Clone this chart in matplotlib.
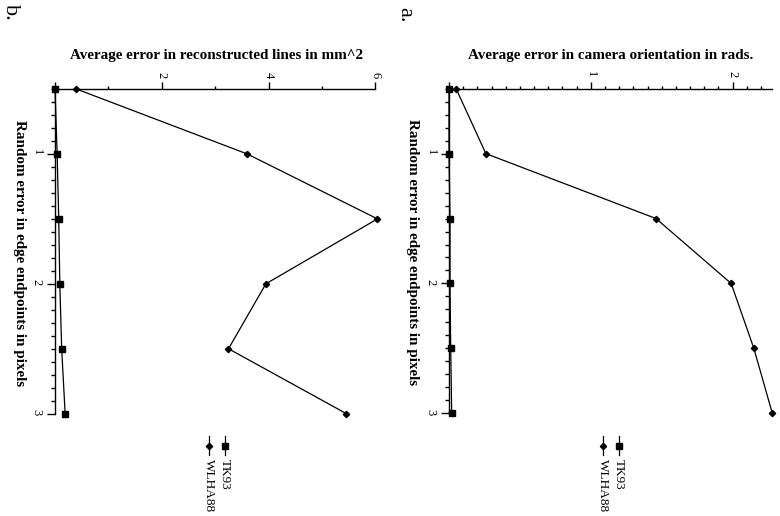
import matplotlib
matplotlib.use('Agg')
import matplotlib.pyplot as plt
from matplotlib.lines import Line2D
from matplotlib.ticker import MultipleLocator

plt.rcParams['font.family'] = ['Liberation Serif', 'DejaVu Serif']

# data
pixel_error = [0.5, 1.0, 1.5, 2.0, 2.5, 3.0]
orient_tk93 = [0.0, 0.0, 0.007, 0.007, 0.012, 0.019]
orient_wlha88 = [0.05, 0.26, 1.46, 1.99, 2.15, 2.28]
lines_tk93 = [0.0, 0.04, 0.07, 0.09, 0.125, 0.19]
lines_wlha88 = [0.40, 3.60, 6.04, 3.95, 3.25, 5.46]
series_names = ['TK93', 'WLHA88']

W, H = 780, 516
fig = plt.figure(figsize=(W / 100, H / 100), dpi=100)


def fx(x):
    return x / W


def fy(y):
    return 1 - y / H


def make_axes(left, right, top, bottom):
    return fig.add_axes([fx(left), fy(bottom), fx(right) - fx(left), fy(top) - fy(bottom)])


def style(ax, xmax, xmajor, xminor):
    ax.set_xlim(0, xmax)
    ax.set_ylim(3, 0.5)
    ax.xaxis.tick_top()
    ax.xaxis.set_major_locator(MultipleLocator(xmajor))
    ax.xaxis.set_minor_locator(MultipleLocator(xminor))
    ax.yaxis.set_major_locator(MultipleLocator(1))
    ax.yaxis.set_minor_locator(MultipleLocator(0.1))
    for s in ['right', 'bottom']:
        ax.spines[s].set_visible(False)
    for s in ['top', 'left']:
        ax.spines[s].set_linewidth(1.0)
    ax.tick_params(axis='x', which='major', direction='out', length=5, width=1,
                   labelsize=9, labelrotation=-90, pad=3)
    ax.tick_params(axis='x', which='minor', direction='out', length=2.3, width=1)
    ax.tick_params(axis='y', which='major', direction='out', length=5.8, width=1,
                   labelsize=9, labelrotation=-90, pad=3)
    ax.tick_params(axis='y', which='minor', direction='out', length=3, width=1)
    # drop the 0 label on the value axis
    ax.xaxis.set_major_formatter(plt.FuncFormatter(lambda v, p: '' if v == 0 else '%g' % v))


def draw(ax, tk, wl):
    ax.plot(tk, pixel_error, color='black', lw=0.9, marker='s', ms=4.5, clip_on=False, zorder=4)
    ax.plot(wl, pixel_error, color='black', lw=0.9, marker='D', ms=3.2, clip_on=False, zorder=4)


def legend(x_tk, x_wl):
    for x, name, mk, ms in [(x_tk, series_names[0], 's', 4.5), (x_wl, series_names[1], 'D', 3.2)]:
        fig.add_artist(Line2D([fx(x)] * 3, [fy(436), fy(445.5), fy(455)], color='black', lw=0.9,
                              marker=mk, ms=ms, markevery=[1], transform=fig.transFigure))
        fig.text(fx(x), fy(459), name, rotation=-90, ha='center', va='top', fontsize=9.5)


# panel a
axa = make_axes(449, 772.3, 88.7, 413.3)
style(axa, 2.28, 1, 0.1)
draw(axa, orient_tk93, orient_wlha88)
fig.text(fx(610.7), fy(55), 'Average error in camera orientation in rads.',
         ha='center', va='center', fontsize=10.9, fontweight='bold')
fig.text(fx(412), fy(252), 'Random error in edge endpoints in pixels',
         rotation=-90, ha='center', va='center', fontsize=10.9, fontweight='bold')
legend(619, 602.7)
fig.text(fx(395), fy(7), 'a.', rotation=-90, ha='left', va='top', fontsize=16)

# panel b
axb = make_axes(55, 375.3, 89, 413.7)
style(axb, 6, 2, 1)
draw(axb, lines_tk93, lines_wlha88)
fig.text(fx(216.7), fy(55), 'Average error in reconstructed lines in mm^2',
         ha='center', va='center', fontsize=10.9, fontweight='bold')
fig.text(fx(19), fy(253), 'Random error in edge endpoints in pixels',
         rotation=-90, ha='center', va='center', fontsize=10.9, fontweight='bold')
legend(225, 208.7)
fig.text(fx(1), fy(4), 'b.', rotation=-90, ha='left', va='top', fontsize=16)

fig.savefig('out.png', dpi=100)
